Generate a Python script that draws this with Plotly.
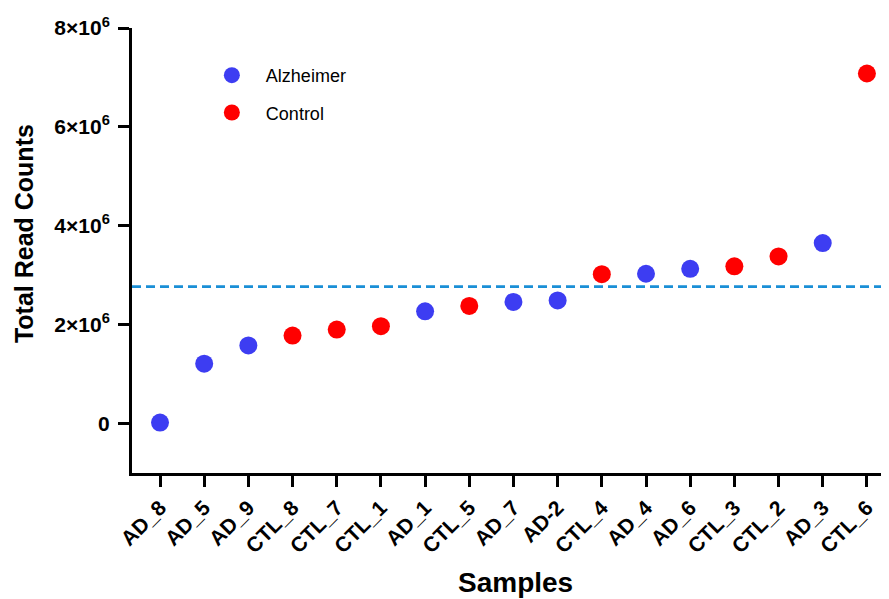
import plotly.graph_objects as go

samples = ["AD_8", "AD_5", "AD_9", "CTL_8", "CTL_7", "CTL_1", "AD_1", "CTL_5", "AD_7",
           "AD-2", "CTL_4", "AD_4", "AD_6", "CTL_3", "CTL_2", "AD_3", "CTL_6"]
read_counts = [0.02e6, 1.21e6, 1.58e6, 1.78e6, 1.90e6, 1.97e6, 2.27e6, 2.38e6, 2.46e6,
               2.49e6, 3.02e6, 3.03e6, 3.13e6, 3.18e6, 3.38e6, 3.65e6, 7.08e6]
groups = ["AD", "AD", "AD", "CTL", "CTL", "CTL", "AD", "CTL", "AD",
          "AD", "CTL", "AD", "AD", "CTL", "CTL", "AD", "CTL"]
mean_line = 2.77e6
y_tickvals = [0, 2e6, 4e6, 6e6, 8e6]
y_ticktext = ["0", "2×10<sup>6</sup>", "4×10<sup>6</sup>", "6×10<sup>6</sup>", "8×10<sup>6</sup>"]

FONT = "Arial, Liberation Sans, sans-serif"
idx = list(range(len(samples)))

fig = go.Figure()
for name, key, color in [("Alzheimer", "AD", "#3d3df2"), ("Control", "CTL", "#ff0000")]:
    xs = [i for i, g in zip(idx, groups) if g == key]
    ys = [v for v, g in zip(read_counts, groups) if g == key]
    fig.add_trace(go.Scatter(x=xs, y=ys, mode="markers", name=name, legendgroup=key,
                             marker=dict(size=18, color=color, line=dict(width=0))))

fig.add_shape(type="line", xref="paper", x0=0, x1=1, yref="y", y0=mean_line, y1=mean_line,
              line=dict(color="#1a8fd6", width=2.8, dash="9px,5px"), layer="below")

fig.add_annotation(text="<b>Total Read Counts</b>", xref="paper", yref="paper",
                   x=-0.1427, y=0.539, xanchor="center", yanchor="middle", textangle=-90,
                   showarrow=False, font=dict(size=25, family=FONT, color="black"))
fig.add_annotation(text="<b>Samples</b>", xref="paper", yref="paper",
                   x=0.506, y=-0.247, xanchor="center", yanchor="middle",
                   showarrow=False, font=dict(size=28, family=FONT, color="black"))

fig.update_layout(
    width=881, height=591,
    margin=dict(l=124, r=0, t=20, b=126),
    plot_bgcolor="white", paper_bgcolor="white",
    font=dict(family=FONT, color="black"),
    showlegend=True,
    legend=dict(x=0.087, y=0.935, xanchor="left", yanchor="top",
                font=dict(size=18, family=FONT, color="black"),
                traceorder="grouped", tracegroupgap=11, itemwidth=58,
                bgcolor="rgba(0,0,0,0)"),
    xaxis=dict(
        range=[-0.634, 16.5], tickmode="array", tickvals=idx, ticktext=samples,
        tickangle=-45, showline=True, linecolor="black", linewidth=3,
        ticks="outside", ticklen=11, tickwidth=3, tickcolor="black",
        showgrid=False, zeroline=False, automargin=False,
        tickfont=dict(size=21, family=FONT, color="black", weight="bold"),
    ),
    yaxis=dict(
        range=[-1e6, 8e6], tickmode="array", tickvals=y_tickvals, ticktext=y_ticktext,
        showline=True, linecolor="black", linewidth=3,
        ticks="outside", ticklen=11, tickwidth=3, tickcolor="black",
        ticklabelstandoff=4,
        showgrid=False, zeroline=False, automargin=False,
        tickfont=dict(size=21, family=FONT, color="black", weight="bold"),
    ),
)

fig.write_html("out.html")
